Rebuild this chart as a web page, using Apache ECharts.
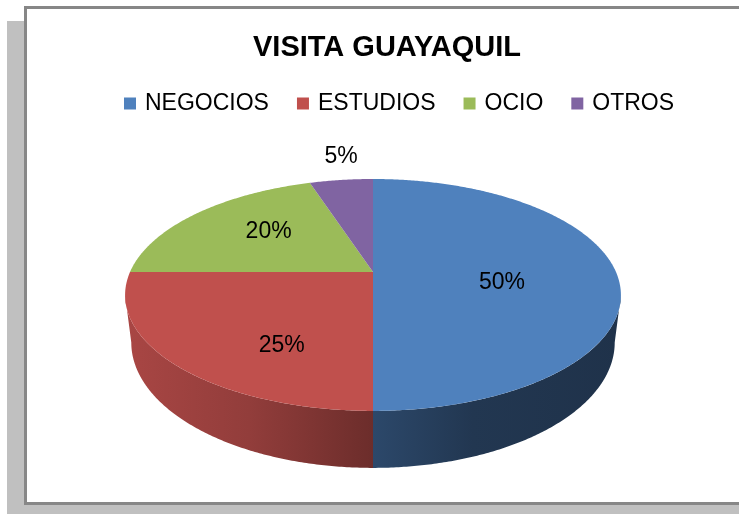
<!DOCTYPE html>
<html>
<head>
<meta charset="utf-8">
<style>
  html, body { margin: 0; padding: 0; background: #fff; }
  #chart { width: 739px; height: 514px; }
</style>
<script src="https://cdn.jsdelivr.net/npm/echarts@6/dist/echarts.min.js"></script>
</head>
<body>
<div id="chart"></div>
<script>
var categories = ['NEGOCIOS', 'ESTUDIOS', 'OCIO', 'OTROS'];
var values = [50, 25, 20, 5];
var colors = ['#4F81BD', '#C0504D', '#9BBB59', '#8064A2'];

// geometria del pastel 3D (perspectiva)
var CX = 373, CY = 272;     // centro de la cara superior
var A = 243, B = 111.4;     // semiejes proyectados
var K = 0.198;              // factor de perspectiva
var H = 45.7;               // grosor
var BS = 0.975;             // la base se ve un poco mas estrecha
var SIL = Math.acos(-K) * 180 / Math.PI; // silueta lateral
var FONT = "'Liberation Sans', Arial, sans-serif";

var total = values.reduce(function (s, v) { return s + v; }, 0);
var starts = [];
var acc = 0;
for (var i = 0; i < values.length; i++) {
    starts.push(acc / total * 360);
    acc += values[i];
}

function proj(deg, r, down) {
    var t = deg * Math.PI / 180;
    var s = Math.sin(t), c = Math.cos(t);
    var d = 1 + K * r * c;
    var sc = down ? BS : 1;
    return [CX + A * r * s / d * sc, CY - B * r * c / d + down / d];
}

function shade(hex, f) {
    var n = parseInt(hex.slice(1), 16);
    var r = Math.round(((n >> 16) & 255) * f);
    var g = Math.round(((n >> 8) & 255) * f);
    var b = Math.round((n & 255) * f);
    return 'rgb(' + r + ',' + g + ',' + b + ')';
}

function sideFill(hex) {
    return {
        type: 'linear', global: true,
        x: CX - A * 1.02, y: 0, x2: CX + A * 1.02, y2: 0,
        colorStops: [
            {offset: 0, color: shade(hex, 0.88)},
            {offset: 0.25, color: shade(hex, 0.76)},
            {offset: 0.5, color: shade(hex, 0.56)},
            {offset: 0.7, color: shade(hex, 0.43)},
            {offset: 1, color: shade(hex, 0.39)}
        ]
    };
}

function renderSlice(i) {
    return function (params, api) {
        var v = api.value(0);
        var a = starts[i], b = starts[i] + v / total * 360;
        var children = [];
        var step = 0.5, t;

        // lateral visible
        var s1 = Math.max(a, SIL), s2 = Math.min(b, 360 - SIL);
        if (s2 > s1) {
            var side = [];
            for (t = s1; t < s2; t += step) side.push(proj(t, 1, 0));
            side.push(proj(s2, 1, 0));
            for (t = s2; t > s1; t -= step) side.push(proj(t, 1, H));
            side.push(proj(s1, 1, H));
            children.push({
                type: 'polygon', z2: 1,
                shape: {points: side},
                style: {fill: sideFill(colors[i])}
            });
        }

        // cara superior
        var top = [[CX, CY]];
        for (t = a; t < b; t += step) top.push(proj(t, 1, 0));
        top.push(proj(b, 1, 0));
        children.push({
            type: 'polygon', z2: 5,
            shape: {points: top},
            style: {fill: colors[i]}
        });

        // etiqueta
        var mid = (a + b) / 2;
        var pct = Math.round(v / total * 100);
        var lx, ly;
        if (pct >= 10) {
            var m = mid * Math.PI / 180;
            lx = CX + 129 * Math.sin(m);
            ly = CY + 11 - 88 * Math.cos(m);
        } else {
            var p = proj(mid, 1, 0);
            lx = p[0];
            ly = p[1] - 23;
        }
        children.push({
            type: 'text', z2: 10,
            x: lx, y: ly,
            style: {
                text: pct + '%', fill: '#000',
                font: '23px ' + FONT,
                align: 'center', verticalAlign: 'middle'
            }
        });
        return {type: 'group', children: children};
    };
}

var chart = echarts.init(document.getElementById('chart'));

var series = categories.map(function (name, i) {
    return {
        type: 'custom',
        name: name,
        coordinateSystem: 'none',
        itemStyle: {color: colors[i]},
        data: [{name: name, value: [values[i]]}],
        renderItem: renderSlice(i),
        silent: true
    };
});

chart.setOption({
    animation: false,
    backgroundColor: '#fff',
    graphic: [
        {type: 'rect', z: -10, shape: {x: 7, y: 21, width: 760, height: 520}, style: {fill: '#c0c0c0'}},
        {type: 'rect', z: -9, shape: {x: 25.5, y: 7.5, width: 740, height: 496}, style: {fill: '#fff', stroke: '#878787', lineWidth: 3}}
    ],
    title: {
        text: 'VISITA GUAYAQUIL',
        left: 387,
        top: 33,
        padding: 0,
        textAlign: 'center',
        textStyle: {fontFamily: FONT, fontSize: 29, fontWeight: 'bold', color: '#000'}
    },
    legend: {
        data: categories,
        left: 124,
        top: 92,
        padding: 0,
        icon: 'rect',
        itemWidth: 12,
        itemHeight: 12,
        itemGap: 28,
        selectedMode: false,
        textStyle: {fontFamily: FONT, fontSize: 23, color: '#000', padding: [0, 0, 0, 4]}
    },
    series: series
});
</script>
</body>
</html>
